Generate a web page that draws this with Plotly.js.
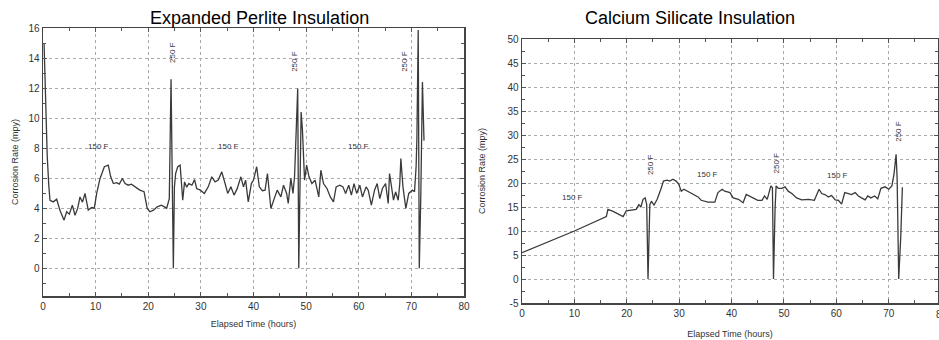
<!DOCTYPE html>
<html>
<head>
<meta charset="utf-8">
<script src="https://cdn.plot.ly/plotly-3.0.1.min.js"></script>
<style>html,body{margin:0;padding:0;background:#fff;}#chart{width:939px;height:340px;}</style>
</head>
<body>
<div id="chart"></div>
<script>
// Expanded Perlite Insulation
const perliteX = [0.2,0.5,0.8,1.1,1.33,1.96,2.6,3.2,4.0,4.5,5.0,5.57,6.08,6.6,7.03,7.5,7.98,8.6,9.25,9.75,10.2,10.84,11.66,12.4,12.87,13.37,14.0,14.5,15.08,15.6,16.2,16.8,17.45,18.4,19.2,19.8,20.3,21.0,21.7,22.5,23.5,24.0,24.33,24.5,24.77,24.97,25.2,25.6,26.06,26.55,26.9,27.3,27.7,28.3,28.8,29.2,29.9,30.67,31.4,32.07,32.7,33.3,33.97,34.6,35.1,35.7,36.3,36.9,37.6,38.1,38.5,39.0,39.6,40.0,40.6,41.1,41.7,42.2,42.65,43.3,43.9,44.5,45.2,45.7,46.3,46.6,47.1,47.5,47.8,48.2,48.4,48.6,48.9,49.05,49.3,49.7,50.1,50.55,51.1,51.7,52.4,52.8,53.3,53.96,54.6,55.2,55.7,56.4,57.0,57.5,58.1,58.6,59.1,59.6,60.2,60.7,61.4,61.8,62.4,63.0,63.5,64.0,64.5,65.1,65.6,65.85,66.6,67.0,67.5,67.8,68.0,68.4,68.95,69.5,70.2,70.6,70.9,71.05,71.3,71.5,71.8,72.1,72.4];
const perliteY = [15.0,10.5,7.5,5.5,4.53,4.42,4.6,3.87,3.2,3.76,3.6,4.2,3.53,4.0,4.75,4.4,4.98,3.87,4.04,4.0,4.98,5.98,6.76,6.86,6.09,5.64,5.7,5.6,5.98,5.64,5.53,5.6,5.42,5.2,5.1,3.98,3.76,3.87,4.09,4.2,4.0,4.64,12.58,5.8,0.0,5.4,6.3,6.76,6.86,4.53,5.75,5.4,5.64,5.53,5.9,5.31,5.2,4.98,5.42,6.09,5.75,5.87,6.42,5.64,4.98,5.42,4.87,5.3,6.09,5.42,5.87,4.42,5.64,5.87,6.76,5.42,5.16,5.2,6.31,3.98,4.53,5.2,4.75,5.53,4.98,4.31,5.98,4.98,6.09,10.76,11.97,0.0,9.4,10.4,9.2,5.87,6.87,6.09,5.64,5.87,4.75,6.53,5.64,5.31,4.75,4.42,5.42,5.53,5.42,4.98,5.53,4.87,5.64,4.98,5.53,4.75,5.42,5.2,4.2,5.2,5.64,4.64,5.31,5.64,4.31,6.31,4.53,5.09,4.53,5.64,7.31,5.42,3.98,4.98,5.2,5.09,6.76,8.64,15.87,0.0,5.0,12.4,8.5];

// Calcium Silicate Insulation
const silicateX = [0,10,16.1,16.4,17.4,18.3,19.3,19.9,20.9,21.8,22.3,22.7,23.1,23.5,23.8,24.05,24.4,24.7,25.2,25.8,26.5,27.0,27.7,28.2,28.8,29.4,29.9,30.4,30.9,31.6,32.3,32.9,33.6,34.2,34.8,35.5,36.8,37.4,38.2,38.7,39.7,40.3,41.3,42.2,42.8,43.4,44.1,45.0,45.8,46.3,46.8,47.5,47.8,48.0,48.3,48.5,48.9,49.6,50.2,50.8,51.5,52.4,53.4,54.7,55.8,56.3,56.7,57.2,57.8,58.5,59.1,59.8,60.4,61.0,61.6,62.3,62.9,63.6,64.2,64.8,65.5,66.0,66.6,67.3,67.9,68.5,69.3,70.0,70.6,71.0,71.4,71.6,71.9,72.3,72.6];
const silicateY = [5.5,10.0,13.0,14.5,14.1,13.5,13.0,14.2,14.4,14.5,15.5,15.0,16.6,16.9,15.5,0.0,15.5,16.2,15.4,16.6,18.7,20.4,20.6,20.4,20.8,20.4,19.8,18.3,18.7,18.3,18.0,17.5,17.1,16.4,16.2,16.0,16.0,18.0,18.7,18.3,18.0,16.9,16.6,15.9,17.6,17.3,16.9,16.4,16.4,17.3,16.6,19.4,19.0,0.0,14.6,19.4,18.9,18.9,19.2,18.3,17.8,16.9,16.5,16.6,16.4,17.6,18.7,17.8,17.6,17.1,17.4,16.5,16.4,15.6,18.0,17.8,17.6,18.0,17.3,16.9,16.5,17.3,16.9,17.3,16.7,18.9,19.2,18.7,19.4,21.8,26.0,21.0,0.0,9.0,19.1];

const perliteXTicks = [0,10,20,30,40,50,60,70,80];
const perliteYTicks = [0,2,4,6,8,10,12,14,16];
const silicateXTicks = [0,10,20,30,40,50,60,70,80];
const silicateYTicks = [-5,0,5,10,15,20,25,30,35,40,45,50];

const W = 939, H = 340;
const px = v => v / W;
const py = v => 1 - v / H;

const FAM = 'Arial, Liberation Sans, sans-serif';
const lineStyle = {color: '#3a3a3a', width: 1.3};
const tickFont = {family: FAM, size: 10, color: '#333'};
const titleFont = {family: FAM, size: 9, color: '#333'};

function axisBase(extra) {
  return Object.assign({
    showline: true, linecolor: '#444', linewidth: 1.5, mirror: 'ticks',
    ticks: 'inside', ticklen: 4, tickcolor: '#555', tickwidth: 1,
    showgrid: true, gridcolor: '#aaa', griddash: 'dot', gridwidth: 1,
    zeroline: false, tickfont: tickFont, automargin: false, fixedrange: true
  }, extra);
}

const data = [
  {x: perliteX, y: perliteY, type: 'scatter', mode: 'lines', line: lineStyle, xaxis: 'x', yaxis: 'y', hoverinfo: 'skip'},
  {x: silicateX, y: silicateY, type: 'scatter', mode: 'lines', line: lineStyle, xaxis: 'x2', yaxis: 'y2', hoverinfo: 'skip'}
];

const annFont = {family: FAM, size: 8, color: '#333'};
function lbl(xref, yref, x, y, text, rot) {
  return {xref: xref, yref: yref, x: x, y: y, text: text, showarrow: false, font: annFont, textangle: rot || 0, xanchor: 'center', yanchor: 'middle'};
}

const layout = {
  width: W, height: H,
  margin: {l: 0, r: 0, t: 0, b: 0},
  paper_bgcolor: '#fff', plot_bgcolor: '#fff',
  showlegend: false,
  xaxis: axisBase({domain: [px(43), px(464)], range: [0, 80], tickvals: perliteXTicks, ticktext: perliteXTicks.map(String),
    minor: {dtick: 5, ticks: 'inside', ticklen: 3, tickcolor: '#555', showgrid: false},
    title: {text: 'Elapsed Time (hours)', font: titleFont, standoff: 10}, anchor: 'y'}),
  yaxis: axisBase({domain: [py(296), py(28)], range: [-1.85, 16], tickvals: perliteYTicks, ticktext: perliteYTicks.map(String),
    minor: {dtick: 1, ticks: 'inside', ticklen: 3, tickcolor: '#555', showgrid: false},
    title: {text: 'Corrosion Rate (mpy)', font: titleFont, standoff: 8}, anchor: 'x'}),
  xaxis2: axisBase({domain: [px(522), px(938)], range: [0, 79.4], tickvals: silicateXTicks, ticktext: silicateXTicks.map(String),
    minor: {dtick: 5, ticks: 'inside', ticklen: 3, tickcolor: '#555', showgrid: false},
    title: {text: 'Elapsed Time (hours)', font: titleFont, standoff: 13}, anchor: 'y2'}),
  yaxis2: axisBase({domain: [py(303), py(39)], range: [-5, 50], tickvals: silicateYTicks, ticktext: silicateYTicks.map(String),
    minor: {dtick: 2.5, ticks: 'inside', ticklen: 3, tickcolor: '#555', showgrid: false},
    title: {text: 'Corrosion Rate (mpy)', font: titleFont, standoff: 20}, anchor: 'x2'}),
  annotations: [
    {xref: 'paper', yref: 'paper', x: px(259), y: py(18), text: 'Expanded Perlite Insulation', showarrow: false,
      font: {family: FAM, size: 18, color: '#000'}, xanchor: 'center', yanchor: 'middle'},
    {xref: 'paper', yref: 'paper', x: px(690), y: py(18), text: 'Calcium Silicate Insulation', showarrow: false,
      font: {family: FAM, size: 18, color: '#000'}, xanchor: 'center', yanchor: 'middle'},
    {xref: 'paper', yref: 'paper', x: px(942), y: py(314), text: '80', showarrow: false,
      font: tickFont, xanchor: 'center', yanchor: 'middle'},
    lbl('x', 'y', 10.5, 8.1, '150 F'),
    lbl('x', 'y', 35.2, 8.1, '150 F'),
    lbl('x', 'y', 60.0, 8.1, '150 F'),
    lbl('x', 'y', 24.5, 14.4, '250 F', -90),
    lbl('x', 'y', 47.9, 13.75, '250 F', -90),
    lbl('x', 'y', 68.8, 13.75, '250 F', -90),
    lbl('x2', 'y2', 9.7, 16.9, '150 F'),
    lbl('x2', 'y2', 35.5, 21.7, '150 F'),
    lbl('x2', 'y2', 60.2, 21.5, '150 F'),
    lbl('x2', 'y2', 24.4, 23.9, '250 F', -90),
    lbl('x2', 'y2', 48.6, 24.2, '250 F', -90),
    lbl('x2', 'y2', 71.7, 30.8, '250 F', -90)
  ]
};

Plotly.newPlot('chart', data, layout, {displayModeBar: false, staticPlot: true});
</script>
</body>
</html>
